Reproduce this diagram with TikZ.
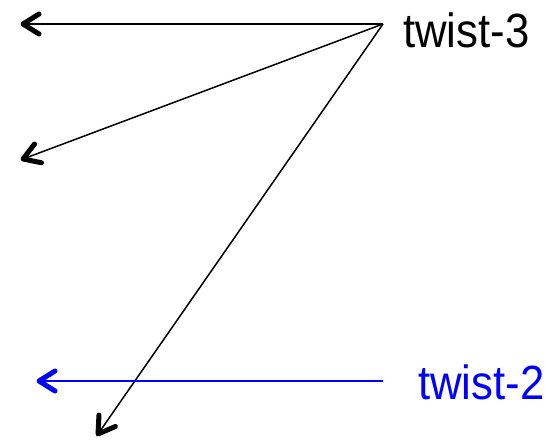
\documentclass[tikz,border=0pt]{standalone}
\usepackage{fontspec}
\setmainfont{Liberation Sans}
\usetikzlibrary{decorations.markings}
\begin{document}
\begin{tikzpicture}[x=1pt,y=-1pt,
  conn/.style={line width=1.5pt,postaction={decorate,decoration={markings,
    mark=at position 1 with {\draw[line width=5pt,line cap=round,line join=round,solid]
      (-16pt,-10pt) -- (0pt,0pt) -- (-16pt,10pt);}}}},
  lbl/.style={inner sep=0pt,anchor=base west,font=\fontsize{48}{48}\selectfont,xscale=0.91,transform shape}]
\useasboundingbox (0,0) rectangle (549,440);
\coordinate (apex) at (383,24);
\coordinate (e1) at (23,24);
\coordinate (e2) at (23,159);
\coordinate (e3) at (98,434);
\coordinate (b0) at (383,381);
\coordinate (b1) at (39,381);
\node[lbl] (t3) at (403,47) {twist-3};
\node[lbl,text=blue] (t2) at (418,399) {twist-2};
\draw[conn] (apex) -- (e1);
\draw[conn] (apex) -- (e2);
\draw[conn] (apex) -- (e3);
\draw[conn,blue] (b0) -- (b1);
\end{tikzpicture}
\end{document}
